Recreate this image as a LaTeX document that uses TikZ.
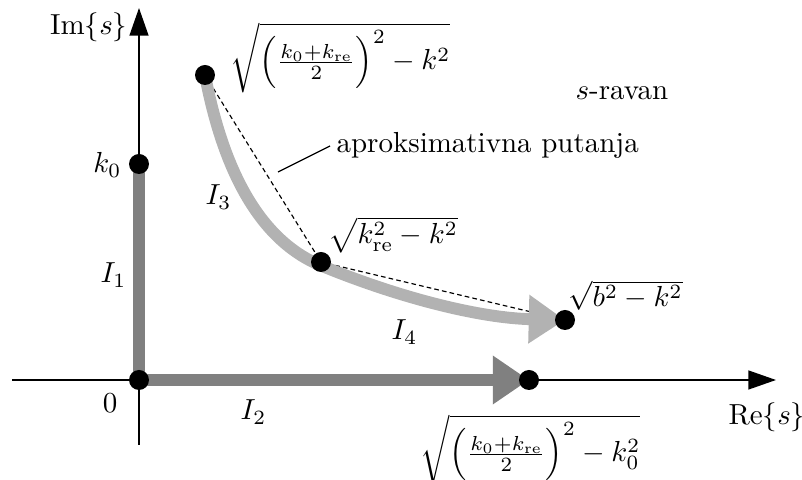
\documentclass[tikz,border=0pt]{standalone}
\usetikzlibrary{arrows.meta,backgrounds}
\begin{document}
\begin{tikzpicture}[x=0.345pt,y=-0.345pt,
  dot/.style={circle,fill=black,inner sep=0pt,minimum size=6.9pt},
  axisline/.style={line width=0.55pt,-{Triangle[length=9.5pt,width=6.5pt]}},
  darkpath/.style={line width=4.1pt,draw=black!50},
  lightpath/.style={line width=4.1pt,draw=black!30},
  bigtip/.style={-{Triangle[length=12.5pt,width=16pt]}},
  approxline/.style={line width=0.4pt,dash pattern=on 1.6pt off 1.1pt},
  leader/.style={line width=0.45pt},
  lbl/.style={inner sep=0pt}]
\useasboundingbox (0,0) rectangle (802,480);

% axis ends
\coordinate (xl) at (12,380);
\coordinate (xr) at (776,380);
\coordinate (yb) at (139,445);
\coordinate (yt) at (139,8);

% points
\node[dot] (O) at (139,380) {};
\node[dot] (K0) at (139,164) {};
\node[dot] (A) at (205,75) {};
\node[dot] (B) at (321,262) {};
\node[dot] (C) at (565,320) {};
\node[dot] (D) at (529,380) {};

\coordinate (P) at (322,266);
\coordinate (L1) at (278,172);
\coordinate (L2) at (330,146);

\begin{scope}[on background layer]
  \draw[axisline] (xl) -- (xr);
  \draw[axisline] (yb) -- (yt);
  \draw[darkpath] (O.center) -- (K0.center);
  \draw[darkpath,bigtip] (O.center) -- (D.center);
  \draw[approxline] (A.center) -- (B.center) -- (C.center);
  \draw[lightpath,bigtip] (A.center) .. controls (225,180) and (265,243) .. (P)
       .. controls (400,298) and (480,318) .. (C.center);
  \draw[leader] (L1) -- (L2);
\end{scope}

% labels
\node[lbl,anchor=base east] (im) at (128,35) {Im$\{s\}$};
\node[lbl,anchor=base west] (re) at (728,425) {Re$\{s\}$};
\node[lbl,anchor=base east] (k0l) at (122,173) {$k_0$};
\node[lbl,anchor=base] (zero) at (110,413) {$0$};
\node[lbl,anchor=base west] (i1) at (100,283) {$I_1$};
\node[lbl,anchor=base west] (i2) at (240,420) {$I_2$};
\node[lbl,anchor=base west] (i3) at (205,205) {$I_3$};
\node[lbl,anchor=base west] (i4) at (391,340) {$I_4$};
\node[lbl,anchor=base west] (sr) at (575,100) {$s$-ravan};
\node[lbl,anchor=base west] (ap) at (336,153) {aproksimativna putanja};
\node[lbl,anchor=base west] (la) at (230,70) {$\sqrt{\Big(\frac{k_0+k_{\mathrm{re}}}{2}\Big)^2-k^2}$};
\node[lbl,anchor=base west] (lb) at (328,244) {$\sqrt{k_{\mathrm{re}}^2-k^2}$};
\node[lbl,anchor=base west] (lc) at (568,307) {$\sqrt{b^2-k^2}$};
\node[lbl,anchor=base west] (ld) at (420,462) {$\sqrt{\Big(\frac{k_0+k_{\mathrm{re}}}{2}\Big)^2-k_0^2}$};
\end{tikzpicture}
\end{document}
